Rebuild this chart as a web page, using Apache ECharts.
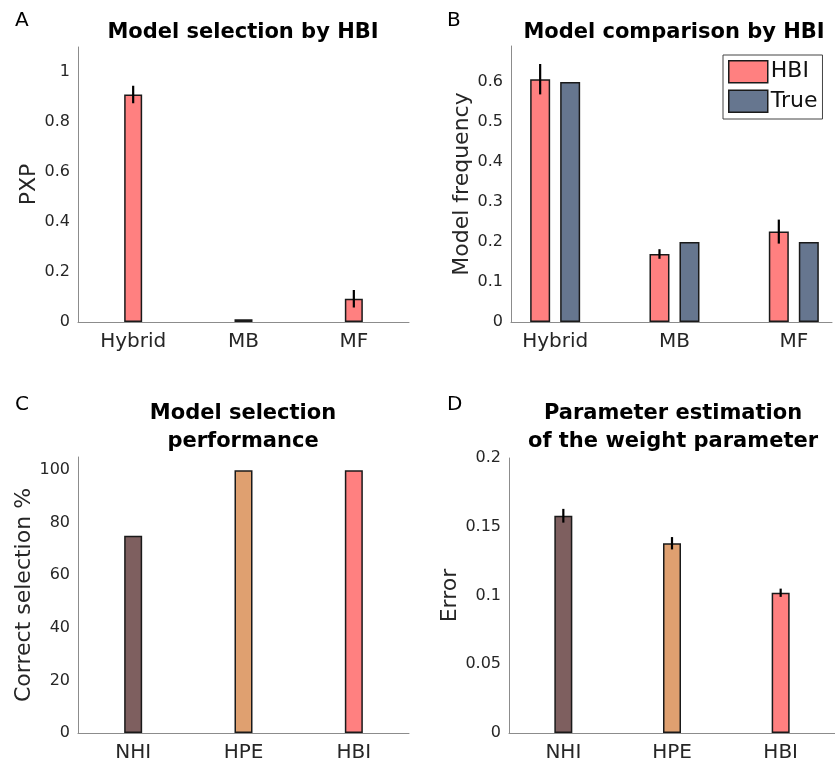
<!DOCTYPE html>
<html>
<head>
<meta charset="utf-8">
<script src="https://cdn.jsdelivr.net/npm/echarts@6/dist/echarts.min.js"></script>
<style>
  html, body { margin: 0; padding: 0; background: #fff; }
  #chart { width: 835px; height: 763px; }
</style>
</head>
<body>
<div id="chart"></div>
<script>
// data
const models = ['Hybrid', 'MB', 'MF']
const pxp = [0.91, 0.011, 0.093]
const pxpErr = [0.035, 0, 0.035]
const freqHBI = [0.607, 0.17, 0.226]
const freqHBIErr = [0.038, 0.012, 0.03]
const freqTrue = [0.6, 0.2, 0.2]
const methods = ['NHI', 'HPE', 'HBI']
const correctPct = [75, 100, 100]
const weightErr = [0.158, 0.138, 0.102]
const weightErrSem = [0.005, 0.0045, 0.003]

const RED = '#ff8080'
const SLATE = '#66768f'
const methodColors = ['#7e5f5f', '#dfa070', '#ff8080']
const FONT = 'DejaVu Sans'
const AXIS_GRAY = '#8c8c8c'
const TXT = '#262626'

const chart = echarts.init(document.getElementById('chart'))

// vertical error bar drawn through the axes, dx = pixel shift inside a bar group
const errRender = (dx) => (params, api) => {
  const x = api.value(0)
  const v = api.value(1)
  const e = api.value(2)
  if (!e) return null
  const top = api.coord([x, v + e])
  const bot = api.coord([x, v - e])
  return {
    type: 'line',
    shape: { x1: top[0] + dx, y1: top[1], x2: bot[0] + dx, y2: bot[1] },
    style: { stroke: '#000', lineWidth: 2.2 }
  }
}

const yAxisBase = (grid, max, interval, name, nameGap) => ({
  type: 'value',
  gridIndex: grid,
  min: 0,
  max: max,
  interval: interval,
  name: name,
  nameLocation: 'middle',
  nameGap: nameGap,
  nameTextStyle: { fontFamily: FONT, fontSize: 22, color: TXT },
  axisLine: { show: true, lineStyle: { color: AXIS_GRAY, width: 1 } },
  axisTick: { show: false },
  splitLine: { show: false },
  axisLabel: { fontFamily: FONT, fontSize: 16, color: TXT, margin: 8, showMaxLabel: max === 0.2 }
})

const catAxis = (grid, cats) => ({
  type: 'category',
  gridIndex: grid,
  data: cats,
  axisLine: { lineStyle: { color: AXIS_GRAY, width: 1 } },
  axisTick: { show: false },
  axisLabel: { fontFamily: FONT, fontSize: 20, color: TXT, margin: 10 }
})

const barStyle = (color) => ({ color: color, borderColor: '#1a1a1a', borderWidth: 1.5 })

const titleBase = (text, left, top) => ({
  text: text,
  left: left,
  top: top,
  textAlign: 'center',
  padding: 0,
  textStyle: { fontFamily: FONT, fontSize: 21, fontWeight: 'bold', color: '#000', lineHeight: 28 }
})

const letter = (text, left, top) => ({
  text: text,
  left: left,
  top: top,
  padding: 0,
  textStyle: { fontFamily: FONT, fontSize: 20, fontWeight: 'normal', color: '#000' }
})

const option = {
  animation: false,
  backgroundColor: '#fff',
  title: [
    letter('A', 15, 11),
    letter('B', 447, 11),
    letter('C', 15, 395),
    letter('D', 447, 395),
    titleBase('Model selection by HBI', 243, 19),
    titleBase('Model comparison by HBI', 674, 19),
    titleBase('Model selection\nperformance', 243, 400),
    titleBase('Parameter estimation\nof the weight parameter', 673, 400)
  ],
  legend: {
    data: ['HBI', 'True'],
    orient: 'vertical',
    left: 723,
    top: 55,
    padding: [5, 5, 6, 5],
    itemWidth: 39,
    itemHeight: 22,
    itemGap: 6,
    borderColor: '#444',
    borderWidth: 1,
    icon: 'rect',
    itemStyle: { borderColor: '#1a1a1a', borderWidth: 1.5 },
    textStyle: { fontFamily: FONT, fontSize: 22, color: '#111', padding: [0, 0, 0, -2] }
  },
  grid: [
    { left: 78, right: 426, top: 47, bottom: 441 },
    { left: 511, right: 3, top: 46, bottom: 441 },
    { left: 78, right: 426, top: 457, bottom: 30 },
    { left: 509, right: -5, top: 458, bottom: 30 }
  ],
  xAxis: [
    catAxis(0, models),
    {
      type: 'value',
      gridIndex: 1,
      min: 0.63,
      max: 3.32,
      splitLine: { show: false },
      axisTick: { show: false },
      axisLine: { show: true, onZero: false, lineStyle: { color: AXIS_GRAY, width: 1 } },
      axisLabel: {
        customValues: [1, 2, 3],
        formatter: (v) => models[v - 1],
        fontFamily: FONT, fontSize: 20, color: TXT, margin: 10
      }
    },
    catAxis(2, methods),
    catAxis(3, methods)
  ],
  yAxis: [
    yAxisBase(0, 1.1, 0.2, 'PXP', 37),
    yAxisBase(1, 0.69, 0.1, 'Model frequency', 38),
    yAxisBase(2, 105, 20, 'Correct selection %', 40),
    yAxisBase(3, 0.2, 0.05, 'Error', 47)
  ],
  series: [
    {
      type: 'bar', xAxisIndex: 0, yAxisIndex: 0, barWidth: 18,
      data: pxp, itemStyle: barStyle(RED)
    },
    {
      type: 'custom', xAxisIndex: 0, yAxisIndex: 0, z: 5,
      renderItem: errRender(0),
      data: pxp.map((v, i) => [i, v, pxpErr[i]])
    },
    {
      name: 'HBI', type: 'bar', xAxisIndex: 1, yAxisIndex: 1, barWidth: 20, barGap: '50%',
      data: freqHBI.map((v, i) => [i + 1, v]), itemStyle: barStyle(RED)
    },
    {
      name: 'True', type: 'bar', xAxisIndex: 1, yAxisIndex: 1, barWidth: 20, barGap: '50%',
      data: freqTrue.map((v, i) => [i + 1, v]), itemStyle: barStyle(SLATE)
    },
    {
      type: 'custom', xAxisIndex: 1, yAxisIndex: 1, z: 5,
      renderItem: errRender(-15),
      data: freqHBI.map((v, i) => [i + 1, v, freqHBIErr[i]])
    },
    {
      type: 'bar', xAxisIndex: 2, yAxisIndex: 2, barWidth: 18,
      data: correctPct.map((v, i) => ({ value: v, itemStyle: barStyle(methodColors[i]) }))
    },
    {
      type: 'bar', xAxisIndex: 3, yAxisIndex: 3, barWidth: 18,
      data: weightErr.map((v, i) => ({ value: v, itemStyle: barStyle(methodColors[i]) }))
    },
    {
      type: 'custom', xAxisIndex: 3, yAxisIndex: 3, z: 5,
      renderItem: errRender(0),
      data: weightErr.map((v, i) => [i, v, weightErrSem[i]])
    }
  ]
}

chart.setOption(option)
</script>
</body>
</html>
